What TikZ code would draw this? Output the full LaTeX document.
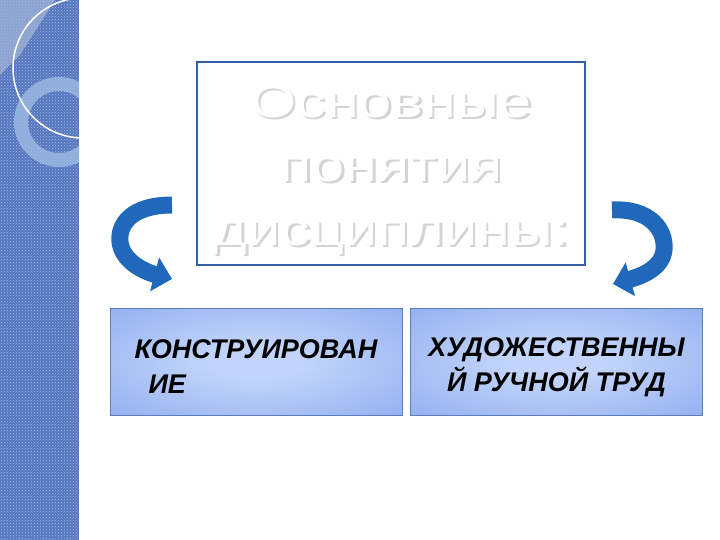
\documentclass[tikz,border=0pt]{standalone}
\usepackage{fontspec}
\setmainfont{Liberation Sans}
\newfontfamily\titlefont[FakeStretch=1.29]{Liberation Sans}
\usetikzlibrary{calc,arrows.meta,patterns}
\definecolor{bandblue}{HTML}{5676BE}
\definecolor{bandlight}{HTML}{8FA3CF}
\definecolor{bandspeck}{HTML}{A3B9E6}
\definecolor{ringblue}{HTML}{8FAEDC}
\definecolor{titleblue}{HTML}{3160A8}
\definecolor{shadowgray}{HTML}{D4D4D4}
\definecolor{boxedge}{HTML}{5C7DBA}
\definecolor{boxin}{HTML}{C2D4FA}
\definecolor{boxout}{HTML}{8DABEE}
\definecolor{arrowblue}{HTML}{2068BA}
\pgfdeclareradialshading[boxin,boxout]{subject glow}{\pgfpoint{0bp}{0bp}}{color(0bp)=(boxin); color(8bp)=(boxin); color(40bp)=(boxout); color(50bp)=(boxout)}

\begin{document}
\begin{tikzpicture}[
        %We set the units and define some styles
        x=1pt, y=-1pt,
        frame line/.style={draw=titleblue, line width=2pt},
        title text/.style={font=\titlefont\fontsize{46}{64}\selectfont, align=center, inner sep=0pt},
        subject box/.style={draw=boxedge, line width=1pt, shading=subject glow,
            minimum width=292pt, minimum height=107pt, inner sep=0pt},
        subject text/.style={font=\bfseries\itshape\fontsize{27}{35}\selectfont, text=black, inner sep=0pt},
        bend arrow/.style={line width=17pt, draw=arrowblue, -{Triangle[length=18pt,width=34pt]}},
    ]
    \useasboundingbox (0,0) rectangle (720,540);

    % textured band on the left
    \begin{scope}
        \clip (0,0) rectangle (79,540);
        \fill[bandblue] (0,0) rectangle (79,540);
        \fill[bandlight] (0,0) -- (55,0) -- (20,55) -- (0,75) -- cycle;
        \draw[ringblue, line width=14pt] (59,122) circle[radius=38];
        \fill[pattern=crosshatch dots, pattern color=bandspeck] (0,0) rectangle (79,540);
        \draw[white, line width=1.5pt] (83,68) circle[radius=70];
    \end{scope}

    % title frame and its embossed text
    \node[frame line, minimum width=388pt, minimum height=203pt, inner sep=0pt] (title) at (391,163.5) {};
    \node[title text, text=shadowgray] (title shadow) at ($(title.center)+(2.5,9)$) {Основные\\понятия\\дисциплины:};
    \node[title text, text=white] (title label) at ($(title.center)+(0,6.5)$) {Основные\\понятия\\дисциплины:};

    % the two subjects
    \node[subject box] (design) at (256,361.5) {};
    \node[subject text, align=left] (design label) at ($(design.center)+(0,5)$) {КОНСТРУИРОВАН\\\hspace*{14pt}ИЕ};
    \node[subject box] (craft) at (556.5,361.5) {};
    \node[subject text, align=center] (craft label) at ($(craft.center)+(0,6)$) {ХУДОЖЕСТВЕННЫ\\Й РУЧНОЙ ТРУД};

    % curved arrows
    \coordinate (left start) at (172,205);
    \coordinate (left tip) at (172,279);
    \coordinate (right start) at (612,210);
    \coordinate (right tip) at (613,284);
    \draw[bend arrow] (left start) .. controls (132,205) and (118,224) .. (120,242)
        .. controls (122,260) and (142,271) .. (left tip);
    \draw[bend arrow] (right start) .. controls (650,208) and (666,230) .. (664,250)
        .. controls (662,268) and (642,276) .. (right tip);
\end{tikzpicture}
\end{document}
